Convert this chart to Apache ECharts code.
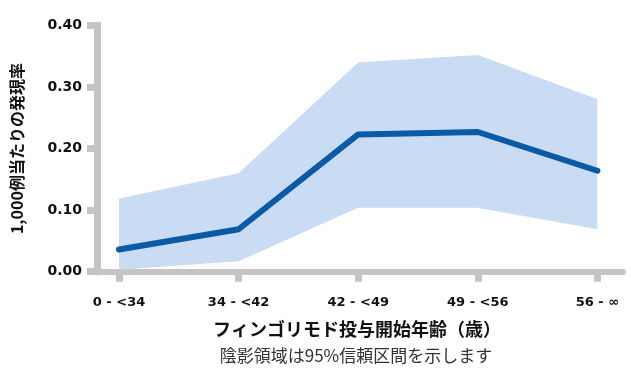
<!DOCTYPE html>
<html><head><meta charset="utf-8">
<script src="https://cdn.jsdelivr.net/npm/echarts@6/dist/echarts.min.js"></script>
<style>html,body{margin:0;padding:0;background:#fff}#c{width:631px;height:390px}</style>
</head><body><div id="c"></div>
<script>
const categories = ['0 - <34', '34 - <42', '42 - <49', '49 - <56', '56 - \u221e'];
const rate = [0.036, 0.069, 0.223, 0.227, 0.164];
const ciLower = [0.003, 0.017, 0.104, 0.104, 0.069];
const ciUpper = [0.119, 0.160, 0.340, 0.352, 0.280];
const yTicks = [0, 0.1, 0.2, 0.3, 0.4];
const yTitle = '1,000例当たりの発現率';
const xTitle = 'フィンゴリモド投与開始年齢（歳）';
const note = '陰影領域は95%信頼区間を示します';

const idx = categories.map((_, i) => i);
const axisGray = '#c4c4c4';
const labelFont = 'DejaVu Sans';
const cjkFont = '"Noto Sans CJK JP", "Noto Sans", sans-serif';

const chart = echarts.init(document.getElementById('c'), null, {renderer: 'canvas'});
chart.setOption({
  animation: false,
  grid: {left: 97, right: 8, top: 25.5, bottom: 118.3, containLabel: false},
  xAxis: {
    type: 'value', min: -0.184, max: 4.214,
    axisLine: {show: true, onZero: false, lineStyle: {color: axisGray, width: 6}},
    axisTick: {show: true, customValues: idx, length: 10, lineStyle: {color: axisGray, width: 7}},
    axisLabel: {customValues: idx, margin: 24, fontFamily: labelFont, fontWeight: 'bold', fontSize: 13, color: '#111',
      formatter: v => categories[Math.round(v)] || ''},
    splitLine: {show: false}
  },
  yAxis: {
    type: 'value', min: yTicks[0], max: yTicks[yTicks.length - 1], interval: 0.1,
    name: yTitle, nameLocation: 'middle', nameRotate: 90, nameGap: 72,
    nameTextStyle: {fontFamily: cjkFont, fontWeight: 'bold', fontSize: 16, color: '#111'},
    axisLine: {show: true, onZero: false, lineStyle: {color: axisGray, width: 7, cap: 'square'}},
    axisTick: {show: true, length: 10, lineStyle: {color: axisGray, width: 7}},
    axisLabel: {margin: 15, fontFamily: labelFont, fontWeight: 'bold', fontSize: 14, color: '#111',
      formatter: v => v.toFixed(2)},
    splitLine: {show: false}
  },
  series: [
    {type: 'custom', silent: true, z: 1,
      data: [0],
      renderItem: (params, api) => {
        const up = idx.map(i => api.coord([i, ciUpper[i]]));
        const lo = idx.slice().reverse().map(i => api.coord([i, ciLower[i]]));
        return {type: 'polygon', shape: {points: up.concat(lo)}, style: {fill: '#c9dcf3'}};
      }},
    {type: 'line', symbol: 'none', silent: true,
      data: idx.map(i => [i, rate[i]]),
      lineStyle: {color: '#0b5aa6', width: 6, cap: 'round', join: 'round'}, z: 3}
  ],
  graphic: [
    {type: 'text', x: 357, y: 320, style: {text: xTitle, align: 'center', font: 'bold 18px ' + cjkFont, fill: '#111'}},
    {type: 'text', x: 356, y: 347, style: {text: note, align: 'center', font: 'normal 17px ' + cjkFont, fill: '#333'}}
  ]
});
</script></body></html>
